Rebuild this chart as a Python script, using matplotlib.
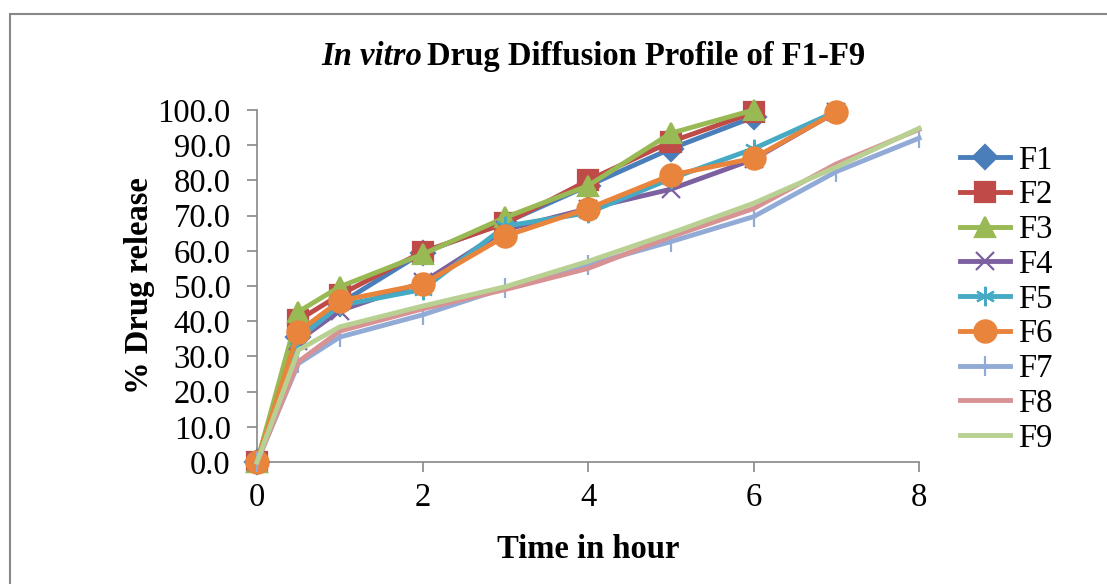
import numpy as np
import matplotlib.pyplot as plt
from matplotlib.patches import Rectangle

plt.rcParams['font.family'] = ['Liberation Serif', 'DejaVu Serif']

time = [0, 0.5, 1, 2, 3, 4, 5, 6, 7, 8]

f1 = [0, 35.5, 45.0, 59.5, 68.0, 78.5, 89.0, 98.0]
f2 = [0, 40.3, 47.5, 59.7, 67.8, 80.0, 91.0, 99.3]
f3 = [0, 42.7, 49.8, 59.0, 69.5, 78.5, 93.4, 100.0]
f4 = [0, 34.5, 43.0, 51.0, 66.0, 72.0, 77.5, 86.0, 99.5]
f5 = [0, 35.0, 44.5, 49.0, 67.0, 70.8, 80.5, 89.0, 99.6]
f6 = [0, 37.0, 45.8, 50.5, 64.2, 72.0, 81.5, 86.3, 99.4]
f7 = [0, 28.0, 35.5, 41.8, 49.5, 56.0, 62.6, 69.7, 82.5, 92.0]
f8 = [0, 28.5, 37.2, 43.5, 49.0, 55.0, 64.0, 72.0, 84.7, 94.5]
f9 = [0, 31.8, 38.4, 44.3, 49.8, 57.0, 65.0, 73.5, 83.8, 94.8]

series = [f1, f2, f3, f4, f5, f6, f7, f8, f9]
names = ['F1', 'F2', 'F3', 'F4', 'F5', 'F6', 'F7', 'F8', 'F9']
colors = ['#4A7EBB', '#BE4B48', '#98B954', '#7D60A0', '#46AAC5',
          '#E8843C', '#91ABD6', '#D89294', '#B9D093']
markers = ['D', 's', '^', 'x', (6, 2, 0), 'o', '|', None, None]
msizes = [12, 14, 15, 13, 14, 16, 14, 0, 0]

fs = 23.5

fig = plt.figure(figsize=(11.07, 5.84), dpi=100)
ax = fig.add_axes([0.2322, 0.2089, 0.5980, 0.6027])

for i in range(len(series)):
    ax.plot(time[:len(series[i])], series[i], color=colors[i], lw=3.5,
            marker=markers[i], markersize=msizes[i], mew=1.6,
            label=names[i], clip_on=False, zorder=3 + i * 0.1)

ax.set_xlim(0, 8)
ax.set_ylim(0, 100)
ax.set_xticks([0, 2, 4, 6, 8])
ax.set_yticks(np.arange(0, 101, 10))
ax.set_yticklabels(['%.1f' % v for v in np.arange(0, 101, 10)])
for s in ['top', 'right']:
    ax.spines[s].set_visible(False)
for s in ['left', 'bottom']:
    ax.spines[s].set_color('#888888')
    ax.spines[s].set_linewidth(1.2)
ax.tick_params(colors='#888888', labelcolor='black', labelsize=fs,
               length=7, width=1.2, direction='out')
ax.tick_params(axis='y', pad=12)
ax.tick_params(axis='x', pad=8)

ax.set_xlabel('Time in hour', fontsize=fs, fontweight='bold', labelpad=15)
ax.set_ylabel('% Drug release', fontsize=fs, fontweight='bold', labelpad=2)

fig.text(422 / 1107, 0.904, 'In vitro', fontsize=fs, fontweight='bold',
         fontstyle='italic', ha='right', va='center')
fig.text(427 / 1107, 0.904, 'Drug Diffusion Profile of F1-F9', fontsize=fs,
         fontweight='bold', ha='left', va='center')

ax.legend(loc='upper left', bbox_to_anchor=(1.042, 0.9375), frameon=False,
          fontsize=fs, handlelength=1.53, handletextpad=0.25,
          labelspacing=0.13, borderaxespad=0)

fig.patches.append(Rectangle((10 / 1107, -0.1), 1.2, 1.1 - 14 / 584,
                             transform=fig.transFigure, fill=False,
                             edgecolor='#888888', lw=1.5))

fig.savefig('out.png', dpi=100)
